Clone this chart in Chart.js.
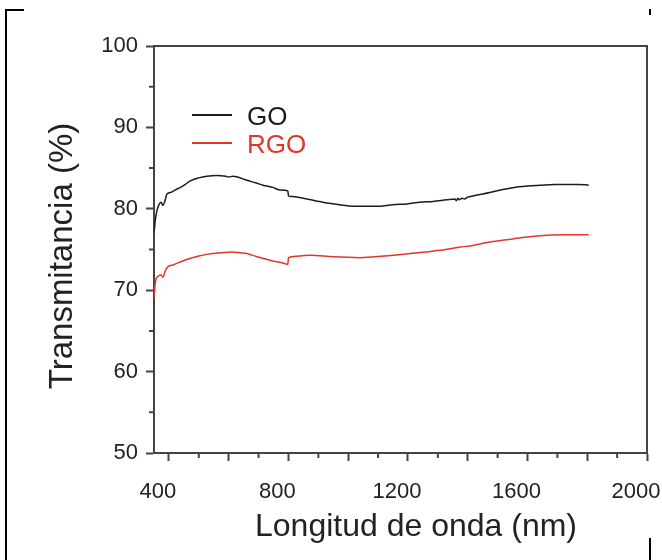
<!DOCTYPE html>
<html><head><meta charset="utf-8">
<script src="https://cdn.jsdelivr.net/npm/chart.js@4"></script>
<style>
html,body{margin:0;padding:0;background:#fff;}
#wrap{position:relative;width:662px;height:560px;overflow:hidden;background:#fff;}
#c{position:absolute;left:0;top:0;}
.fr{position:absolute;background:#000;}
</style></head><body>
<div id="wrap">
<canvas id="c" width="662" height="560"></canvas>
<div class="fr" style="left:5px;top:9px;width:2px;height:551px"></div>
<div class="fr" style="left:5px;top:9px;width:19px;height:2px"></div>
<div class="fr" style="left:649px;top:538px;width:2px;height:22px"></div>
<div class="fr" style="left:649px;top:9px;width:2px;height:6px"></div>
</div>
<script>
// ---- data ----
const goWavelength = [350,355,360,368,374,380,386,393,405,420,437,455,470,500,527,560,590,600,615,630,661,690,715,750,772,798,800,810,849,890,929,970,1016,1060,1096,1150,1197,1240,1284,1330,1357,1362,1367,1372,1380,1390,1398,1420,1474,1510,1551,1600,1642,1690,1732,1770,1805];
const goValues     = [77.0,78.8,79.8,80.6,80.8,80.4,80.9,81.8,82.0,82.3,82.6,83.0,83.4,83.8,84.0,84.1,84.0,83.9,84.0,83.9,83.5,83.2,82.9,82.6,82.3,82.2,81.6,81.5,81.3,81.0,80.7,80.5,80.3,80.3,80.3,80.5,80.6,80.8,80.9,81.1,81.2,81.0,81.3,81.1,81.3,81.2,81.4,81.6,82.0,82.3,82.6,82.8,82.9,83.0,83.0,83.0,82.9];
const rgoWavelength = [350,354,358,363,373,380,388,397,414,440,470,500,527,571,611,640,661,695,748,775,798,800,840,872,950,1039,1120,1207,1260,1307,1374,1418,1470,1530,1590,1642,1720,1805];
const rgoValues     = [69.0,70.8,71.5,71.7,71.9,71.6,72.4,72.9,73.1,73.5,73.9,74.2,74.4,74.6,74.7,74.6,74.5,74.1,73.6,73.4,73.2,74.0,74.2,74.3,74.1,74.0,74.2,74.5,74.7,74.9,75.3,75.5,75.9,76.2,76.5,76.7,76.8,76.8];
const seriesNames = ['GO', 'RGO'];
const xTitle = 'Longitud de onda (nm)';
const yTitle = 'Transmitancia (%)';
const xMajorTicks = [400,600,800,1000,1200,1400,1600,1800,2000];
const xLabelTicks = [400,800,1200,1600,2000];
const xMinorTicks = [500,700,900,1100,1300,1500,1700,1900];
const yMajorTicks = [50,60,70,80,90,100];
const yMinorTicks = [55,65,75,85,95];

const FONT = "'Liberation Sans', Arial, Helvetica, sans-serif";
Chart.defaults.font.family = FONT;
const AXIS = '#444';
const colors = ['#1c1c1c', '#e5342a'];

const decor = {
  id: 'decor',
  afterDraw(chart, args, opts) {
    const {ctx, chartArea: a, scales: {x, y}} = chart;
    ctx.save();
    ctx.strokeStyle = AXIS; ctx.lineWidth = 2;
    ctx.beginPath();
    ctx.moveTo(a.left, a.top); ctx.lineTo(a.right, a.top); ctx.lineTo(a.right, a.bottom);
    yMinorTicks.forEach(v => { const p = y.getPixelForValue(v); ctx.moveTo(a.left, p); ctx.lineTo(a.left - 5, p); });
    xMinorTicks.forEach(v => { const p = x.getPixelForValue(v); ctx.moveTo(p, a.bottom); ctx.lineTo(p, a.bottom + 5); });
    ctx.stroke();
    // axis titles
    ctx.fillStyle = '#222';
    ctx.textAlign = 'center'; ctx.textBaseline = 'middle';
    ctx.font = opts.xTitleSize + 'px ' + FONT;
    ctx.fillText(xTitle, opts.xTitleX, opts.xTitleY);
    ctx.save();
    ctx.translate(opts.yTitleX, opts.yTitleY);
    ctx.rotate(-Math.PI / 2);
    ctx.font = opts.yTitleSize + 'px ' + FONT;
    ctx.fillText(yTitle, 0, 0);
    ctx.restore();
    // legend
    chart.data.datasets.forEach((ds, i) => {
      const ly = opts.top + i * opts.gap;
      ctx.strokeStyle = ds.borderColor; ctx.lineWidth = 2;
      ctx.beginPath(); ctx.moveTo(opts.left, ly); ctx.lineTo(opts.left + opts.len, ly); ctx.stroke();
      ctx.fillStyle = ds.borderColor;
      ctx.font = opts.size + 'px ' + FONT;
      ctx.textBaseline = 'middle'; ctx.textAlign = 'left';
      ctx.fillText(ds.label, opts.textX, ly + 3);
    });
    ctx.restore();
  }
};

new Chart(document.getElementById('c'), {
  type: 'line',
  data: {
    datasets: [
      { label: seriesNames[0], data: goWavelength.map((w, i) => ({x: w, y: goValues[i]})),
        borderColor: colors[0], borderWidth: 1.5, pointRadius: 0, cubicInterpolationMode: 'monotone', fill: false },
      { label: seriesNames[1], data: rgoWavelength.map((w, i) => ({x: w, y: rgoValues[i]})),
        borderColor: colors[1], borderWidth: 1.5, pointRadius: 0, cubicInterpolationMode: 'monotone', fill: false }
    ]
  },
  plugins: [decor],
  options: {
    responsive: false, animation: false,
    layout: { padding: { top: 46, right: 15, left: 0, bottom: 0 } },
    plugins: {
      legend: { display: false }, tooltip: { enabled: false },
      decor: { left: 192, len: 40, top: 115, gap: 28, textX: 247, size: 26,
               xTitleX: 416, xTitleY: 527, xTitleSize: 32,
               yTitleX: 63, yTitleY: 256, yTitleSize: 33 }
    },
    scales: {
      x: {
        type: 'linear', min: 350, max: 2000,
        afterBuildTicks: s => { s.ticks = xMajorTicks.map(v => ({value: v})); },
        afterFit: s => { s.height = 107; s.paddingLeft = 0; s.paddingRight = 0; },
        grid: { drawOnChartArea: false, drawTicks: true, tickLength: 8, tickColor: AXIS, tickWidth: 2 },
        border: { display: true, color: AXIS, width: 2 },
        ticks: { autoSkip: false, maxRotation: 0, padding: 18, labelOffset: -11, color: '#222',
                 font: { size: 22 }, callback: v => xLabelTicks.includes(v) ? String(v) : '' },
        title: { display: false }
      },
      y: {
        min: 50, max: 100,
        afterBuildTicks: s => { s.ticks = yMajorTicks.map(v => ({value: v})); },
        afterFit: s => { s.width = 154; s.paddingTop = 0; s.paddingBottom = 0; },
        grid: { drawOnChartArea: false, drawTicks: true, tickLength: 8, tickColor: AXIS, tickWidth: 2 },
        border: { display: true, color: AXIS, width: 2 },
        ticks: { autoSkip: false, padding: 8, color: '#222', font: { size: 22 }, callback: v => String(v) },
        title: { display: false }
      }
    }
  }
});
</script>
</body></html>
